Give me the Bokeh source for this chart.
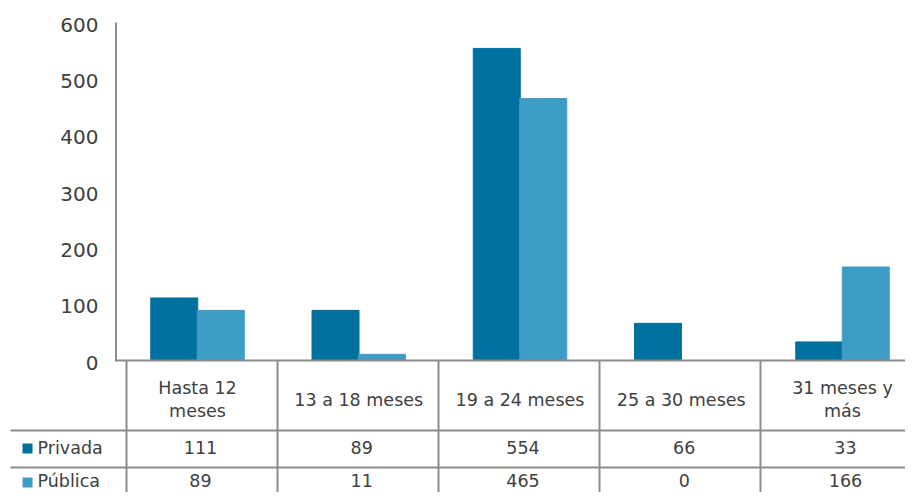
from bokeh.plotting import figure
from bokeh.models import Range1d, ColumnDataSource
from bokeh.core.properties import value
from bokeh.embed import file_html
from bokeh.resources import INLINE

# ---- data ----
categories = ["Hasta 12\nmeses", "13 a 18 meses", "19 a 24 meses", "25 a 30 meses", "31 meses y\nmás"]
series_names = ["Privada", "Pública"]
privada = [111, 89, 554, 66, 33]
publica = [89, 11, 465, 0, 166]
y_ticks = [0, 100, 200, 300, 400, 500, 600]

colors = ["#00709E", "#3E9DC7"]
axis_color = "#8C8C8C"
text_color = "#404040"
FONT = "DejaVu Sans"

W, H = 905, 492
OFF = 0
cat0_px, cat_step = 197.0, 161.25
y0_px, y600_px = 360.0, 22.0
ppu = (y0_px - y600_px) / 600.0

x_start = (OFF - cat0_px) / cat_step
x_end = (OFF + W - cat0_px) / cat_step
y_end = 600 + (y600_px - OFF) / ppu
y_start = -(OFF + H - y0_px) / ppu

p = figure(width=W, height=H, output_backend="svg", toolbar_location=None,
           x_range=Range1d(x_start, x_end), y_range=Range1d(y_start, y_end),
           x_axis_location=None, y_axis_location=None,
           min_border=0, min_border_left=0, min_border_right=0,
           min_border_top=0, min_border_bottom=0, outline_line_color=None)
p.extra_x_ranges = {"px": Range1d(OFF, OFF + W)}
p.extra_y_ranges = {"px": Range1d(OFF + H, OFF)}
p.grid.visible = False
p.background_fill_color = "white"
p.border_fill_color = "white"

idx = list(range(len(categories)))
bar_w = 47.0 / cat_step
half = 23.25 / cat_step

src = ColumnDataSource(dict(x=idx, privada=privada, publica=publica,
                            xp=[i - half for i in idx], xq=[i + half for i in idx],
                            cat=categories,
                            sp=[str(v) for v in privada], sq=[str(v) for v in publica]))

p.vbar(x="xp", top="privada", bottom=0, width=bar_w, color=colors[0], source=src)
p.vbar(x="xq", top="publica", bottom=0, width=bar_w, color=colors[1], source=src)

# y axis line and tick labels
p.segment(x0=[115.5], y0=[y600_px], x1=[115.5], y1=[y0_px + 1], x_range_name="px", y_range_name="px",
          line_color=axis_color, line_width=2)
p.text(x=[98] * len(y_ticks), y=y_ticks, text=[str(t) for t in y_ticks],
       x_range_name="px", text_align="right", text_baseline="middle", y_offset=2,
       text_font=value(FONT), text_font_size="20px", text_color=text_color)

# table lines
p.segment(x0=[115, 10, 10], y0=[360, 430, 467], x1=[913, 913, 913], y1=[360, 430, 467],
          x_range_name="px", y_range_name="px", line_color=axis_color, line_width=2)
vx = [126, 277, 438, 599, 760]
p.segment(x0=vx, y0=[360] * 5, x1=vx, y1=[505] * 5, x_range_name="px", y_range_name="px",
          line_color=axis_color, line_width=2)

# header texts
p.text(x="x", y=399, text="cat", source=src,
       y_range_name="px", text_align="center", text_baseline="middle", text_line_height=1.15,
       text_font=value(FONT), text_font_size="17.5px", text_color=text_color)
# value rows
p.text(x="x", y=447, text="sp", source=src, y_range_name="px", x_offset=3,
       text_align="center", text_baseline="middle",
       text_font=value(FONT), text_font_size="17.5px", text_color=text_color)
p.text(x="x", y=480, text="sq", source=src, y_range_name="px", x_offset=3,
       text_align="center", text_baseline="middle",
       text_font=value(FONT), text_font_size="17.5px", text_color=text_color)

# row legend keys and names
p.rect(x=[27, 27], y=[448, 482], width=10, height=10, width_units="screen", height_units="screen",
       x_range_name="px", y_range_name="px", fill_color=colors, line_color=None)
p.text(x=[37, 37], y=[447, 480], text=series_names, x_range_name="px", y_range_name="px",
       text_align="left", text_baseline="middle",
       text_font=value(FONT), text_font_size="17.5px", text_color=text_color)

open("out.html", "w").write(file_html(p, INLINE))
